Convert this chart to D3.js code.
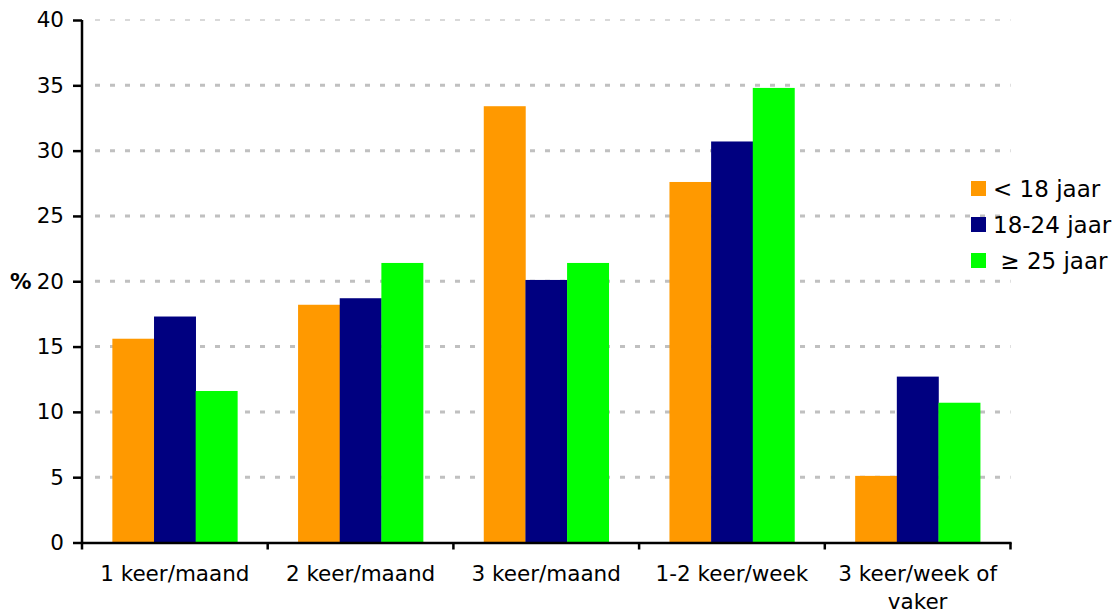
<!DOCTYPE html>
<html>
<head>
<meta charset="utf-8">
<script src="https://cdn.jsdelivr.net/npm/d3@7"></script>
<style>
  html, body { margin: 0; padding: 0; background: #fff; }
  svg { display: block; font-family: "DejaVu Sans", Verdana, sans-serif; }
</style>
</head>
<body>
<svg id="chart" width="1115" height="610"></svg>
<script>
const categories = ["1 keer/maand", "2 keer/maand", "3 keer/maand", "1-2 keer/week", "3 keer/week of vaker"];
const categoryLines = [["1 keer/maand"], ["2 keer/maand"], ["3 keer/maand"], ["1-2 keer/week"], ["3 keer/week of", "vaker"]];
const seriesNames = ["< 18 jaar", "18-24 jaar", "\u00A0≥ 25 jaar"];
const under18 = [15.6, 18.2, 33.4, 27.6, 5.1];
const age18to24 = [17.3, 18.7, 20.1, 30.7, 12.7];
const age25plus = [11.6, 21.4, 21.4, 34.8, 10.7];
const yTicks = [0, 5, 10, 15, 20, 25, 30, 35, 40];
const colors = ["#FF9900", "#000080", "#00FF00"];

(function () {
const series = [under18, age18to24, age25plus];
const fs = 21.5;

const svg = d3.select("#chart");
const pLeft = 82, pRight = 1010.5, pTop = 20, pBottom = 542.5;

const y = d3.scaleLinear().domain([0, 40]).range([pBottom, pTop]);
const pInner = 0.327;
const x0 = d3.scaleBand().domain(categories).range([pLeft, pRight])
  .paddingInner(pInner).paddingOuter(pInner / 2);
const x1 = d3.scaleBand().domain(d3.range(series.length)).range([0, x0.bandwidth()]);

// gridlines
svg.append("g").selectAll("line")
  .data(yTicks.filter(d => d > 0))
  .join("line")
  .attr("x1", pLeft + 3).attr("x2", pRight)
  .attr("y1", d => y(d)).attr("y2", d => y(d))
  .attr("stroke", d => d === 40 ? "#d9d9d9" : "#c0c0c0")
  .attr("stroke-width", d => d === 40 ? 2 : 3)
  .attr("stroke-dasharray", "5,10")
  .attr("stroke-dashoffset", 5);

// bars
const gGroups = svg.append("g").selectAll("g")
  .data(categories)
  .join("g")
  .attr("transform", d => `translate(${x0(d)},0)`);

gGroups.selectAll("rect")
  .data((d, i) => series.map((s, k) => ({ k, v: s[i] })))
  .join("rect")
  .attr("x", d => x1(d.k))
  .attr("width", x1.bandwidth() + 0.3)
  .attr("y", d => y(d.v))
  .attr("height", d => y(0) - y(d.v))
  .attr("fill", d => colors[d.k]);

// y axis
const yAxis = d3.axisLeft(y).tickValues(yTicks).tickSize(9).tickPadding(9).tickFormat(d3.format("d"));
const gy = svg.append("g").attr("transform", `translate(${pLeft},0)`).call(yAxis);
gy.select(".domain").attr("stroke", "#000").attr("stroke-width", 2.5).attr("d", `M0,${pBottom + 1}V${pTop}`);
gy.selectAll(".tick line").attr("stroke", "#000").attr("stroke-width", 2.5);
gy.selectAll(".tick text").attr("font-size", fs).attr("fill", "#000").attr("font-family", "DejaVu Sans, Verdana, sans-serif");

// x axis
const step = x0.step();
const boundaries = categories.map(c => x0(c) - step * pInner / 2).concat([pRight]);
svg.append("line")
  .attr("x1", pLeft - 1).attr("x2", pRight + 1)
  .attr("y1", pBottom + 0.5).attr("y2", pBottom + 0.5)
  .attr("stroke", "#000").attr("stroke-width", 2.5);
svg.append("g").selectAll("line")
  .data(boundaries)
  .join("line")
  .attr("x1", d => d).attr("x2", d => d)
  .attr("y1", pBottom).attr("y2", pBottom + 7)
  .attr("stroke", "#000").attr("stroke-width", 2.5);

const xl = svg.append("g").selectAll("text")
  .data(categories)
  .join("text")
  .attr("x", d => x0(d) + x0.bandwidth() / 2)
  .attr("y", 581)
  .attr("text-anchor", "middle")
  .attr("font-size", fs)
  .attr("fill", "#000");
xl.each(function(d, i) {
  const t = d3.select(this);
  categoryLines[i].forEach((line, j) => {
    t.append("tspan").attr("x", x0(d) + x0.bandwidth() / 2).attr("dy", j === 0 ? 0 : 28).text(line);
  });
});

// % label
svg.append("text")
  .attr("x", 10).attr("y", y(20)).attr("dy", "0.35em")
  .attr("font-size", fs).attr("font-weight", "bold").attr("fill", "#000")
  .text("%");

// legend
const lg = svg.append("g").selectAll("g")
  .data(seriesNames)
  .join("g")
  .attr("transform", (d, i) => `translate(971,${181 + i * 36})`);
lg.append("rect").attr("width", 15).attr("height", 15).attr("fill", (d, i) => colors[i]);
lg.append("text")
  .attr("x", 22).attr("y", 7.5).attr("dy", "0.36em")
  .attr("font-size", 23).attr("fill", "#000")
  .text(d => d);
})();
</script>
</body>
</html>
